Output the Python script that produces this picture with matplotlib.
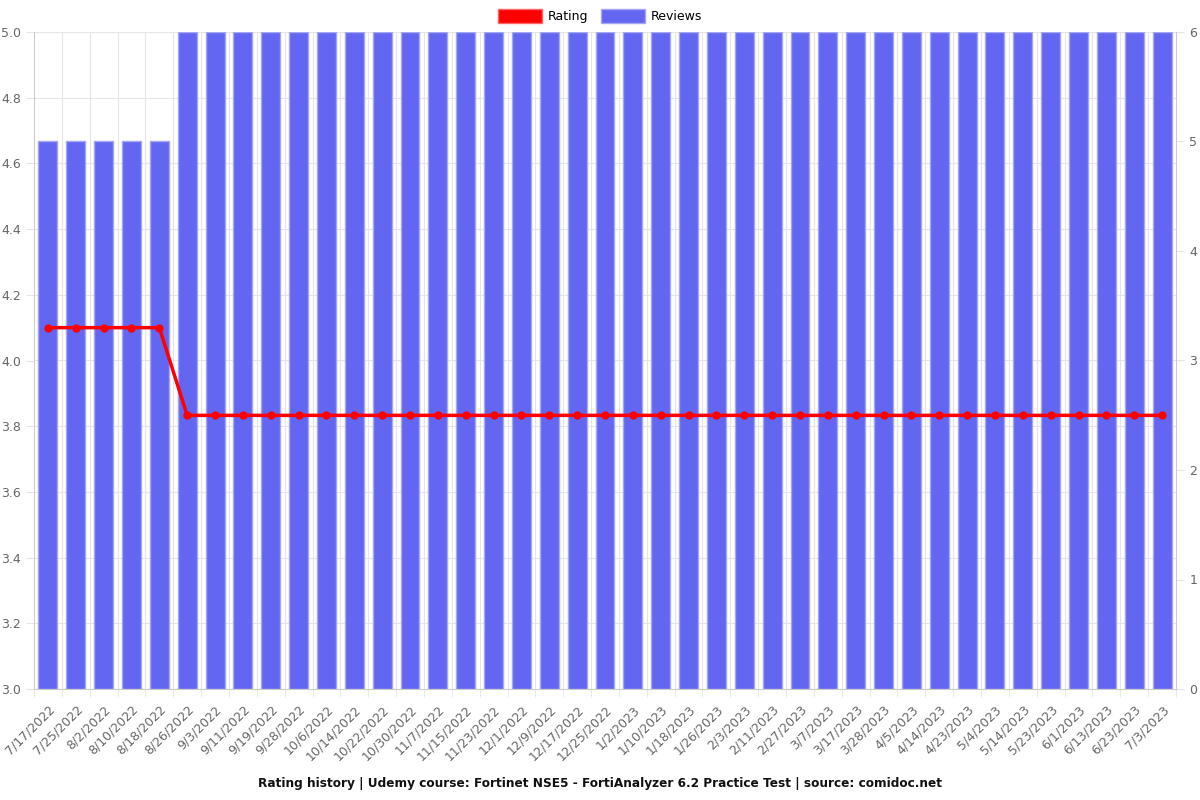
import matplotlib.pyplot as plt
import numpy as np
from matplotlib.patches import Patch

# Data
dates = ['7/17/2022', '7/25/2022', '8/2/2022', '8/10/2022', '8/18/2022', '8/26/2022',
         '9/3/2022', '9/11/2022', '9/19/2022', '9/28/2022', '10/6/2022', '10/14/2022',
         '10/22/2022', '10/30/2022', '11/7/2022', '11/15/2022', '11/23/2022', '12/1/2022',
         '12/9/2022', '12/17/2022', '12/25/2022', '1/2/2023', '1/10/2023', '1/18/2023',
         '1/26/2023', '2/3/2023', '2/11/2023', '2/27/2023', '3/7/2023', '3/17/2023',
         '3/28/2023', '4/5/2023', '4/14/2023', '4/23/2023', '5/4/2023', '5/14/2023',
         '5/23/2023', '6/1/2023', '6/13/2023', '6/23/2023', '7/3/2023']
reviews = [5] * 5 + [6] * 36
rating = [4.1] * 5 + [3.833] * 36

RED = '#FF0000'
BLUE = '#6366F1'
GRID = '#E5E5E5'
TICK = '#666666'

fig = plt.figure(figsize=(12, 8), dpi=100)
ax = fig.add_axes([34 / 1200, 111 / 800, 1142 / 1200, 657 / 800])
ax2 = ax.twinx()

x = np.arange(len(dates))

# Reviews bars on right axis
ax2.bar(x, reviews, width=0.68, color=BLUE, edgecolor='#A5A7F5', linewidth=1, zorder=2)
ax2.set_ylim(0, 6)
ax2.set_yticks(range(0, 7))

# Rating line on left axis
ax.set_ylim(3.0, 5.0)
ax.set_yticks(np.arange(3.0, 5.01, 0.2))
ax.set_yticklabels([f'{v:.1f}' for v in np.arange(3.0, 5.01, 0.2)])
ax.set_xlim(-0.5, len(dates) - 0.5)

# Left axis drawn above right one so line sits over bars
ax.set_zorder(ax2.get_zorder() + 1)
ax.patch.set_visible(False)
ax.plot(x, rating, color=RED, linewidth=2.5, marker='o', markersize=5, zorder=3)

# Gridlines behind bars: draw on ax2
for yv in np.arange(3.2, 5.01, 0.2):
    ax2.axhline((yv - 3.0) * 3, color=GRID, linewidth=0.8, zorder=0)
for b in np.arange(0.5, len(dates) - 1, 1):
    ax2.axvline(b, color=GRID, linewidth=0.8, zorder=0)

ax.set_xticks(x)
ax.set_xticklabels(dates, rotation=45, ha='right', rotation_mode='anchor')
ax.set_xticks(np.arange(-0.5, len(dates), 1), minor=True)

for a in (ax, ax2):
    a.tick_params(colors=TICK, labelsize=9, length=6, width=0.8)
    a.tick_params(axis='x', which='major', length=0, pad=10)
    a.tick_params(axis='x', which='minor', length=6, color=GRID)
    for s in a.spines.values():
        s.set_visible(False)
ax.tick_params(axis='y', color=GRID)
ax2.tick_params(axis='y', color=GRID)
ax.spines['left'].set_visible(True)
ax.spines['left'].set_color('#CCCCCC')
ax.spines['bottom'].set_visible(True)
ax.spines['bottom'].set_color('#CCCCCC')
ax2.spines['right'].set_visible(True)
ax2.spines['right'].set_color('#CCCCCC')

handles = [Patch(facecolor=RED, edgecolor='#FF6666'), Patch(facecolor=BLUE, edgecolor='#A5A7F5')]
fig.legend(handles, ['Rating', 'Reviews'], loc='center', bbox_to_anchor=(0.5, 1 - 16 / 800),
           ncol=2, frameon=False, fontsize=9, handlelength=3.5, handleheight=1.3,
           columnspacing=1.0, handletextpad=0.5)

fig.text(0.5, 1 - 783 / 800, 'Rating history | Udemy course: Fortinet NSE5 - FortiAnalyzer 6.2 Practice Test | source: comidoc.net',
         ha='center', va='center', fontsize=8.7, fontweight='bold', color='#111111')

fig.savefig('out.png', dpi=100, facecolor='white')
